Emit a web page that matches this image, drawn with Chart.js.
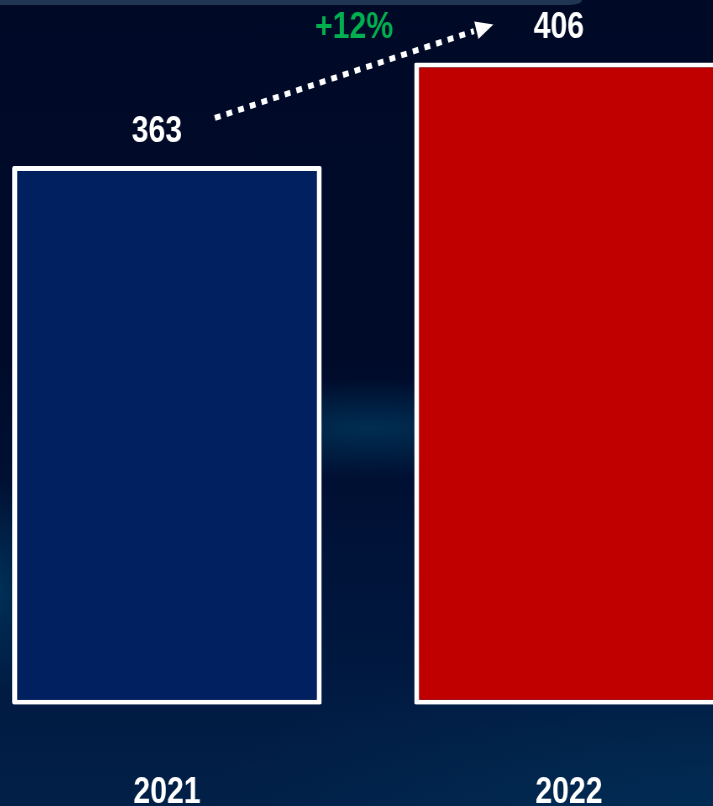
<!DOCTYPE html>
<html>
<head>
<meta charset="utf-8">
<script src="https://cdn.jsdelivr.net/npm/chart.js@4.4.1/dist/chart.umd.min.js"></script>
<style>
  html, body { margin: 0; padding: 0; }
  body {
    width: 713px; height: 806px; overflow: hidden; position: relative;
    background:
      radial-gradient(ellipse 220px 50px at 370px 428px, rgba(0, 72, 110, 0.55), rgba(0, 72, 110, 0) 100%),
      radial-gradient(ellipse 40px 110px at 0px 590px, rgba(0, 70, 110, 0.55), rgba(0, 70, 110, 0) 100%),
      radial-gradient(ellipse 500px 160px at 713px 806px, rgba(2, 48, 88, 0.7), rgba(2, 48, 88, 0) 100%),
      linear-gradient(to bottom, #000a27 0%, #000b2a 45%, #00143a 72%, #011b42 88%, #012048 100%);
  }
  #topbar {
    position: absolute; left: 0; top: 0; width: 582px; height: 5px;
    background: #1f3553; border-bottom-right-radius: 12px 5px;
  }
  /* the whole chart is narrowed horizontally, like the condensed lettering of the original */
  #wrap {
    position: absolute; left: -34px; top: 0; width: 957px; height: 882px;
    transform: scaleX(0.84); transform-origin: 0 0;
  }
</style>
</head>
<body>
<div id="topbar"></div>
<div id="wrap"><canvas id="chart" width="957" height="882"></canvas></div>
<script>
const years = ['2021', '2022'];
const totals = [363, 406];
const barColors = ['#002060', '#C00000'];
const axisMin = 139;
const axisMax = 432;

const FONT = '"Liberation Sans", Arial, sans-serif';

const labelsPlugin = {
  id: 'labels',
  afterDatasetsDraw(chart) {
    const { ctx } = chart;
    const meta = chart.getDatasetMeta(0);
    ctx.save();
    ctx.font = 'bold 36px ' + FONT;
    ctx.textAlign = 'center';
    ctx.textBaseline = 'middle';
    ctx.fillStyle = '#ffffff';
    meta.data.forEach((bar, i) => {
      ctx.fillText(String(totals[i]), bar.x - 12, bar.y - 34);
    });

    // growth arrow between the two value labels
    const b0 = meta.data[0], b1 = meta.data[1];
    const sx = b0.x + 57, sy = b0.y - 48;
    const tx = b1.x - 90, ty = b1.y - 38;
    const dx = tx - sx, dy = ty - sy;
    const len = Math.hypot(dx, dy);
    const ux = dx / len, uy = dy / len;
    const head = 21;
    ctx.strokeStyle = '#ffffff';
    ctx.lineWidth = 6;
    ctx.setLineDash([7, 7.4]);
    ctx.beginPath();
    ctx.moveTo(sx, sy);
    ctx.lineTo(tx - ux * (head + 3), ty - uy * (head + 3));
    ctx.stroke();
    ctx.setLineDash([]);
    ctx.beginPath();
    ctx.moveTo(tx, ty);
    ctx.lineTo(tx - ux * head - uy * 9, ty - uy * head + ux * 9);
    ctx.lineTo(tx - ux * head + uy * 9, ty - uy * head - ux * 9);
    ctx.closePath();
    ctx.fillStyle = '#ffffff';
    ctx.fill();

    const pct = Math.round((totals[1] - totals[0]) / totals[0] * 100);
    ctx.fillStyle = '#00B050';
    ctx.fillText('+' + pct + '%', (sx + tx) / 2, (sy + ty) / 2 - 43);
    ctx.restore();
  }
};

new Chart(document.getElementById('chart'), {
  type: 'bar',
  data: {
    labels: years,
    datasets: [{
      data: totals,
      base: axisMin,
      backgroundColor: barColors,
      borderColor: '#ffffff',
      borderWidth: { left: 6, right: 6, top: 5, bottom: 5 },
      borderRadius: 2,
      borderSkipped: false,
      barPercentage: 0.77,
      categoryPercentage: 1
    }]
  },
  options: {
    responsive: false,
    animation: false,
    layout: { padding: 0 },
    plugins: { legend: { display: false }, tooltip: { enabled: false } },
    scales: {
      x: {
        grid: { display: false, drawTicks: false },
        border: { display: false },
        ticks: {
          color: '#ffffff',
          padding: 67,
          font: { family: FONT, size: 36, weight: 'bold', lineHeight: 1.2 }
        }
      },
      y: {
        display: false,
        min: axisMin,
        max: axisMax
      }
    }
  },
  plugins: [labelsPlugin]
});
</script>
</body>
</html>
